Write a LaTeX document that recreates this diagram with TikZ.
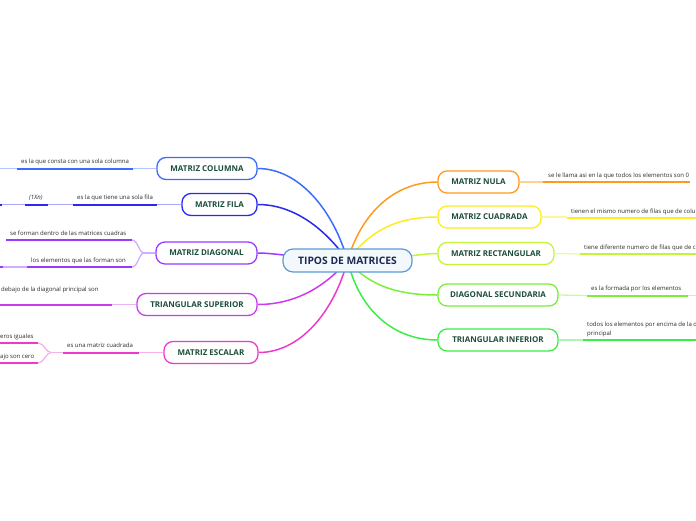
\documentclass[tikz,border=0pt]{standalone}
\usepackage{fontspec}
\setmainfont{Open Sans}
\definecolor{cOrange}{HTML}{FF9A1F}\definecolor{lOrange}{HTML}{FFD08F}
\definecolor{cYellow}{HTML}{FFEC1A}\definecolor{lYellow}{HTML}{FFF59A}
\definecolor{cLime}{HTML}{C2F53A}\definecolor{lLime}{HTML}{E6FBAA}
\definecolor{cGreen}{HTML}{7AEE3A}\definecolor{lGreen}{HTML}{C8F8AB}
\definecolor{cGreenB}{HTML}{3AEE46}\definecolor{lGreenB}{HTML}{AEF6B3}
\definecolor{cBlue}{HTML}{3A6CFF}\definecolor{lBlue}{HTML}{B3C4FF}
\definecolor{cIndigo}{HTML}{2A2AEE}\definecolor{lIndigo}{HTML}{AAAAF6}
\definecolor{cPurple}{HTML}{9A3AFF}\definecolor{lPurple}{HTML}{D2ADFF}
\definecolor{cMagenta}{HTML}{CC3AEE}\definecolor{lMagenta}{HTML}{EBB0F7}
\definecolor{cPink}{HTML}{EE3ACC}\definecolor{lPink}{HTML}{F7B0EA}
\definecolor{cCenter}{HTML}{5A9BD4}\definecolor{cCenterFill}{HTML}{F3F8FD}
\definecolor{centertext}{HTML}{1A2B50}
\definecolor{topictext}{HTML}{1D4D3B}
\definecolor{lbltext}{HTML}{2A2A2A}
\pgfdeclarelayer{bg}
\pgfsetlayers{bg,main}
\begin{document}
\begin{tikzpicture}[x=1pt,y=-1pt,
 topic/.style={draw=#1, line width=1.3pt, rounded corners=9pt, fill=white,
   font=\bfseries\fontsize{8}{9}\selectfont, text=topictext, minimum height=22pt, inner sep=0pt},
 lbl/.style={anchor=base west, font=\fontsize{6}{7}\selectfont, text=lbltext, inner sep=0pt},
 branch/.style={draw=#1, line width=1.5pt},
 under/.style={draw=#1, line width=2pt},
 faint/.style={draw=#1, line width=1.3pt}]
\useasboundingbox (0,0) rectangle (696,520);

% central node
\node[draw=cCenter, fill=cCenterFill, line width=1.2pt, rounded corners=10pt,
  minimum width=129pt, minimum height=23pt, inner sep=0pt,
  font=\bfseries\fontsize{10.3}{12}\selectfont, text=centertext] (c) at (347.5,260.5) {TIPOS DE MATRICES};

% right topics
\node[topic=cOrange, minimum width=81pt] (nula) at (478.5,182) {MATRIZ NULA};
\node[topic=cYellow, minimum width=103pt] (cuad) at (489.5,217) {MATRIZ CUADRADA};
\node[topic=cLime, minimum width=116pt] (rect) at (496,253.5) {MATRIZ RECTANGULAR};
\node[topic=cGreen, minimum width=120pt] (dsec) at (498,295) {DIAGONAL SECUNDARIA};
\node[topic=cGreenB, minimum width=120pt] (tinf) at (498,340) {TRIANGULAR INFERIOR};

% left topics
\node[topic=cBlue, minimum width=100pt] (col) at (207,168.5) {MATRIZ COLUMNA};
\node[topic=cIndigo, minimum width=75pt] (fila) at (219.5,204.5) {MATRIZ FILA};
\node[topic=cPurple, minimum width=101pt] (diag) at (206.5,253) {MATRIZ DIAGONAL};
\node[topic=cMagenta, minimum width=120pt] (tsup) at (197,304.5) {TRIANGULAR SUPERIOR};
\node[topic=cPink, minimum width=94pt] (esc) at (211,352.5) {MATRIZ ESCALAR};

% branches from the centre
\begin{pgfonlayer}{bg}
\draw[branch=cOrange] (c.center) .. controls (362,212) and (395,182) .. (nula.west);
\draw[branch=cYellow] (c.center) .. controls (372,228) and (400,217) .. (cuad.west);
\draw[branch=cLime] (c.center) .. controls (400,259) and (420,253.5) .. (rect.west);
\draw[branch=cGreen] (c.center) .. controls (370,287) and (400,295) .. (dsec.west);
\draw[branch=cGreenB] (c.center) .. controls (360,312) and (395,340) .. (tinf.west);
\draw[branch=cBlue] (c.center) .. controls (334,212) and (300,168.5) .. (col.east);
\draw[branch=cIndigo] (c.center) .. controls (326,230) and (295,204.5) .. (fila.east);
\draw[branch=cPurple] (c.center) .. controls (300,258) and (275,253) .. (diag.east);
\draw[branch=cMagenta] (c.center) .. controls (325,287) and (295,304.5) .. (tsup.east);
\draw[branch=cPink] (c.center) .. controls (334,312) and (300,352.5) .. (esc.east);
\end{pgfonlayer}

% ---------- right labels ----------
\coordinate (nulaA) at (543,182); \coordinate (nulaB) at (690,182);
\draw[faint=lOrange] (nula.east) -- (nulaA);
\draw[under=cOrange] (nulaA) -- (nulaB);
\node[lbl] (nulaT) at (548,177) {se le llama asi en la que todos los elementos son 0};

\coordinate (cuadA) at (567,218); \coordinate (cuadB) at (696,218);
\draw[faint=lYellow] (cuad.east) -- (cuad.east -| cuadA);
\draw[under=cYellow] (cuadA) -- (cuadB);
\node[lbl] (cuadT) at (571,213) {tienen el mismo numero de filas que de colu};

\coordinate (rectA) at (580,254); \coordinate (rectB) at (696,254);
\draw[faint=lLime] (rect.east) -- (rectA);
\draw[under=cLime] (rectA) -- (rectB);
\node[lbl] (rectT) at (584,249) {tiene diferente numero de filas que de co};

\coordinate (dsecA) at (587,295.5); \coordinate (dsecB) at (688,295.5); \coordinate (dsecC) at (696,295.5);
\draw[faint=lGreen] (dsec.east) -- (dsecA);
\draw[under=cGreen] (dsecA) -- (dsecB);
\draw[faint=lGreen] (dsecB) -- (dsecC);
\node[lbl] (dsecT) at (591,290.5) {es la formada por los elementos};

\coordinate (tinfA) at (583,340); \coordinate (tinfB) at (696,340);
\draw[faint=lGreenB] (tinf.east) -- (tinfA);
\draw[under=cGreenB] (tinfA) -- (tinfB);
\node[lbl, anchor=south west, align=left, font=\fontsize{6}{9}\selectfont] (tinfT) at (587,337)
  {todos los elementos por encima de la d\\principal};

% ---------- left labels ----------
% columna
\coordinate (colA) at (133,168.5); \coordinate (colB) at (17,168.5); \coordinate (colC) at (0,168.5);
\draw[faint=lBlue] (col.west) -- (colA);
\draw[under=cBlue] (colA) -- (colB);
\draw[faint=lBlue] (colB) -- (colC);
\node[lbl] (colT) at (21,163.5) {es la que consta con una sola columna};

% fila
\coordinate (filaA) at (157,204.5); \coordinate (filaB) at (73,204.5);
\coordinate (filaC) at (48,204.5); \coordinate (filaD) at (25,204.5);
\coordinate (filaE) at (2,204.5); \coordinate (filaF) at (0,204.5);
\draw[faint=lIndigo] (fila.west) -- (filaA);
\draw[under=cIndigo] (filaA) -- (filaB);
\draw[faint=lIndigo] (filaB) -- (filaC);
\draw[under=cIndigo] (filaC) -- (filaD);
\draw[faint=lIndigo] (filaD) -- (filaE);
\draw[under=cIndigo] (filaE) -- (filaF);
\node[lbl] (filaT) at (77,199.5) {es la que tiene una sola fila};
\node[lbl] (filaT2) at (29,199.5) {\textit{(1Xn)}};

% diagonal
\coordinate (diagJ) at (144,253);
\coordinate (diagA) at (132,240); \coordinate (diagB) at (6,240);
\coordinate (diagC) at (132,267); \coordinate (diagD) at (27,267);
\coordinate (diagE) at (3,267); \coordinate (diagF) at (0,267);
\draw[faint=lPurple] (diag.west) -- (diagJ);
\draw[faint=lPurple] (diagJ) .. controls (139,253) and (138,240) .. (diagA);
\draw[faint=lPurple] (diagJ) .. controls (139,253) and (138,267) .. (diagC);
\draw[under=cPurple] (diagA) -- (diagB);
\draw[under=cPurple] (diagC) -- (diagD);
\draw[faint=lPurple] (diagD) -- (diagE);
\draw[under=cPurple] (diagE) -- (diagF);
\node[lbl] (diagT1) at (10,235) {se forman dentro de las matrices cuadras};
\node[lbl] (diagT2) at (31,262) {los elementos que las forman son};

% triangular superior
\coordinate (tsupA) at (112,304.5); \coordinate (tsupB) at (0,304.5);
\draw[faint=lMagenta] (tsup.west) -- (tsupA);
\draw[under=cMagenta] (tsupA) -- (tsupB);
\node[lbl] (tsupT) at (1,291.5) {debajo de la diagonal principal son};

% escalar
\coordinate (escA) at (139,352.5); \coordinate (escB) at (63,352.5); \coordinate (escJ) at (51,352.5);
\coordinate (escC) at (38,343); \coordinate (escD) at (0,343);
\coordinate (escE) at (38,363); \coordinate (escF) at (0,363);
\draw[faint=lPink] (esc.west) -- (escA);
\draw[under=cPink] (escA) -- (escB);
\draw[faint=lPink] (escB) -- (escJ);
\draw[faint=lPink] (escJ) .. controls (46,352.5) and (44,343) .. (escC);
\draw[faint=lPink] (escJ) .. controls (46,352.5) and (44,363) .. (escE);
\draw[under=cPink] (escC) -- (escD);
\draw[under=cPink] (escE) -- (escF);
\node[lbl] (escT) at (67,347.5) {es una matriz cuadrada};
\node[lbl] (escT1) at (0,338) {eros iguales};
\node[lbl] (escT2) at (0,358) {ajo son cero};
\end{tikzpicture}
\end{document}
